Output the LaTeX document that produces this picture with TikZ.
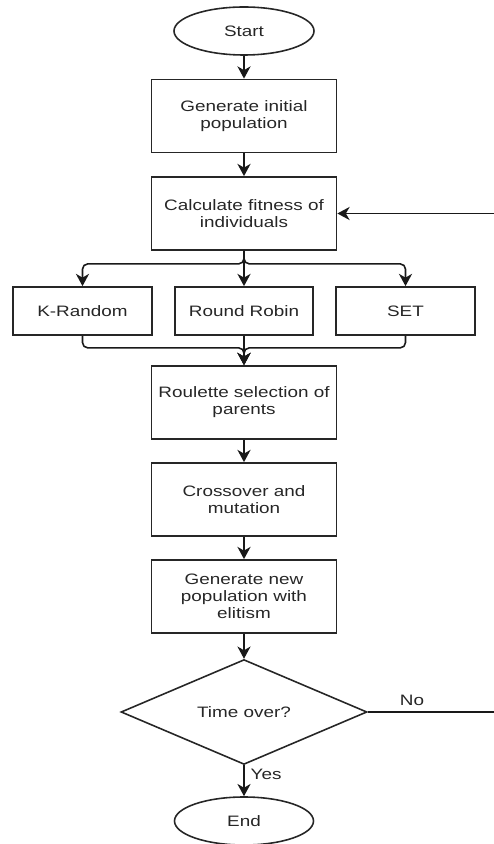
\documentclass[tikz,border=0pt]{standalone}
\usepackage{fontspec}
\setmainfont[FakeStretch=1.25]{Liberation Sans}
\usepackage{tikz}
\usetikzlibrary{shapes,arrows.meta,calc}
\tikzstyle{tsText} = [
    text=black!85,
    font=\fontsize{8.6}{9.6}\selectfont
]
\tikzstyle{tsBox} = [
    rectangle,
    tsText,
    align=center,
    draw=black!85,
    line width=1pt,
    minimum width=3.7cm,
    minimum height=1.46cm
]
\tikzstyle{tsSmallBox} = [
    tsBox,
    minimum width=2.78cm,
    minimum height=0.96cm
]
\tikzstyle{tsTerminal} = [
    ellipse,
    tsText,
    draw=black!85,
    line width=0.9pt,
    minimum width=2.8cm,
    minimum height=0.96cm
]
\tikzstyle{tsDecision} = [
    diamond,
    tsText,
    draw=black!85,
    line width=0.9pt,
    inner sep=0pt,
    minimum width=4.92cm,
    minimum height=1.92cm
]
\tikzstyle{tsArrow} = [
    -{Stealth[length=7pt,width=7.5pt,inset=2.2pt]},
    line width=0.9pt,
    draw=black!90,
    rounded corners=3pt
]
\begin{document}
\begin{tikzpicture}
        \useasboundingbox (0,0) rectangle (9.88,16.88);

        % Start
        \node[tsTerminal] (start) at (4.88,16.26) {Start};

        % Main boxes
        \node[tsBox] (init) at (4.88,14.56) {Generate initial\\population};
        \node[tsBox] (calc) at (4.88,12.61) {Calculate fitness of\\individuals};

        % Selection schemes
        \node[tsSmallBox] (krand) at (1.65,10.66) {K-Random};
        \node[tsSmallBox, minimum width=2.76cm] (robin) at (4.88,10.66) {Round Robin};
        \node[tsSmallBox] (set) at (8.11,10.66) {SET};

        \node[tsBox] (roul) at (4.88,8.83) {Roulette selection of\\parents};
        \node[tsBox] (cross) at (4.88,6.89) {Crossover and\\mutation};
        \node[tsBox] (newpop) at (4.88,4.95) {Generate new\\population with\\elitism};

        % Decision and end
        \node[tsDecision] (time) at (4.88,2.64) {Time over?};
        \node[tsTerminal, minimum width=2.78cm] (end) at (4.88,0.46) {End};

        % Loop ends at the right border
        \coordinate (loopin) at (9.88,12.61);
        \coordinate (loopout) at (9.88,2.64);

        % Arrows down the main column
        \draw[tsArrow] (start) -- (init);
        \draw[tsArrow] (init) -- (calc);
        \draw[tsArrow] (roul) -- (cross);
        \draw[tsArrow] (cross) -- (newpop);
        \draw[tsArrow] (newpop) -- (time);
        \draw[tsArrow] (time) -- node[tsText, right, pos=0.3] {Yes} (end);

        % Branch to the selection schemes
        \draw[tsArrow] (calc.south) -- ++(0,-0.26) -| (krand.north);
        \draw[tsArrow] (calc.south) -- (robin.north);
        \draw[tsArrow] (calc.south) -- ++(0,-0.26) -| (set.north);

        % Merge into roulette selection
        \draw[tsArrow] (krand.south) -- ++(0,-0.24) -| (roul.north);
        \draw[tsArrow] (robin.south) -- (roul.north);
        \draw[tsArrow] (set.south) -- ++(0,-0.24) -| (roul.north);

        % Loop back
        \draw[line width=0.9pt, draw=black!90] (time.east) -- node[tsText, above, pos=0.35] {No} (loopout);
        \draw[tsArrow] (loopin) -- (calc.east);

\end{tikzpicture}
\end{document}
